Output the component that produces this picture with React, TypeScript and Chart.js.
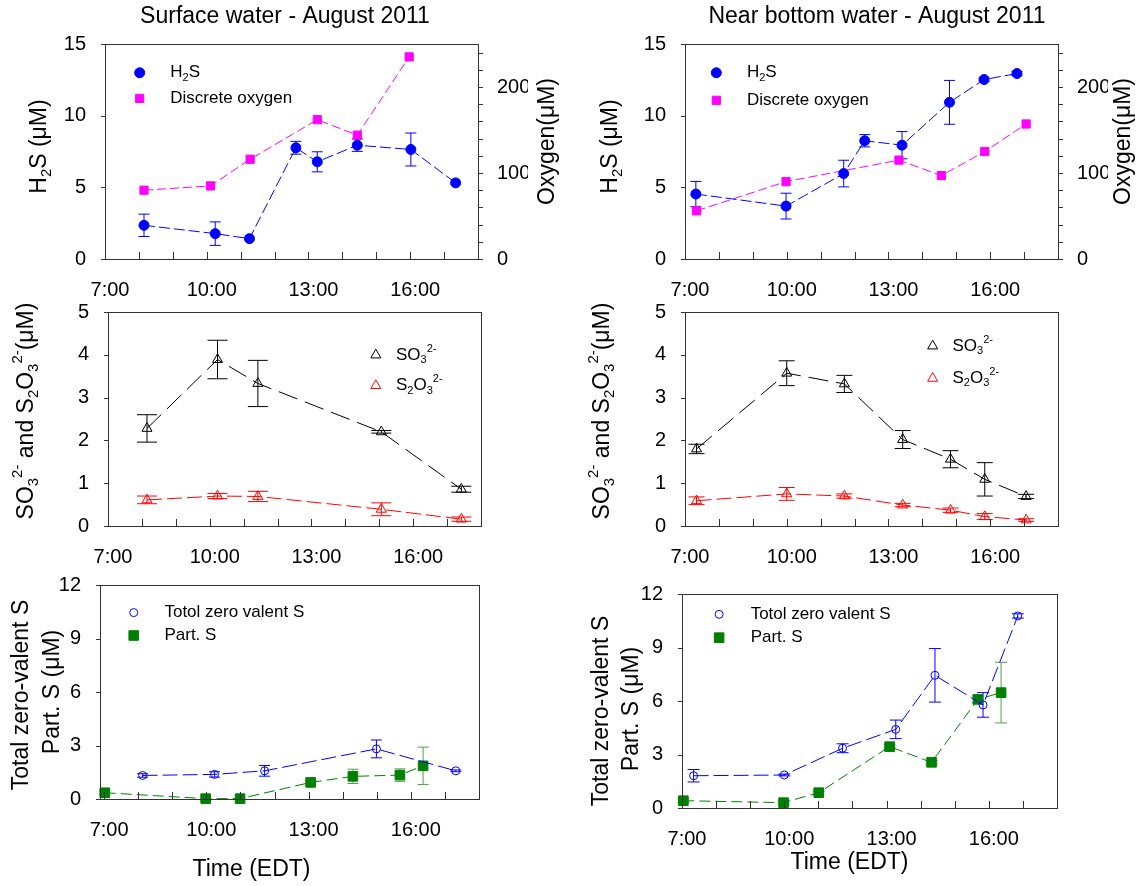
import React, { useEffect, useRef } from 'react';
import { Chart, registerables } from 'chart.js';
Chart.register(...registerables);

const PAGE_W = 1136;
const PAGE_H = 886;
const FONT = "'Liberation Sans', Arial, Helvetica, sans-serif";

// ---------- tick labels ----------
const hourLabels = [7, 10, 13, 16];
const o2Labels = [0, 100, 200];

// ---------- Surface water: H2S and discrete oxygen ----------
const surfH2sTime = [8.15, 10.25, 11.26, 12.63, 13.26, 14.44, 16.02, 17.34];
const surfH2s = [2.35, 1.77, 1.42, 7.76, 6.78, 7.94, 7.64, 5.31];
const surfH2sErr = [0.78, 0.82, 0, 0.45, 0.7, 0.43, 1.15, 0];
const surfO2Time = [8.15, 10.11, 11.28, 13.26, 14.44, 15.97];
const surfO2 = [80, 85, 116, 162, 144, 235];

// ---------- Near bottom water: H2S and discrete oxygen ----------
const botH2sTime = [7.32, 9.98, 11.68, 12.3, 13.4, 14.8, 15.82, 16.79];
const botH2s = [4.53, 3.69, 5.96, 8.25, 7.94, 10.93, 12.52, 12.94];
const botH2sErr = [0.88, 0.9, 0.93, 0.43, 0.95, 1.53, 0.1, 0.15];
const botO2Time = [7.34, 9.98, 13.31, 14.56, 15.84, 17.06];
const botO2 = [56, 90, 115, 97, 125, 157];

// ---------- Surface water: sulfite and thiosulfate ----------
const surfSTime = [8.15, 10.23, 11.42, 15.06, 17.42];
const surfSO3 = [2.28, 3.89, 3.33, 2.2, 0.86];
const surfSO3Err = [0.32, 0.45, 0.54, 0.03, 0.07];
const surfS2O3 = [0.61, 0.7, 0.69, 0.39, 0.16];
const surfS2O3Err = [0.09, 0.06, 0.12, 0.15, 0.05];

// ---------- Near bottom water: sulfite and thiosulfate ----------
const botSTime = [7.34, 10.0, 11.7, 13.42, 14.83, 15.84, 17.06];
const botSO3 = [1.8, 3.57, 3.32, 2.02, 1.56, 1.09, 0.69];
const botSO3Err = [0.11, 0.29, 0.2, 0.21, 0.2, 0.39, 0.05];
const botS2O3 = [0.59, 0.75, 0.7, 0.49, 0.37, 0.22, 0.14];
const botS2O3Err = [0.09, 0.15, 0.05, 0.04, 0.05, 0.07, 0.03];

// ---------- Surface water: zero-valent S and particulate S ----------
const surfZvsTime = [8.13, 10.24, 11.71, 14.99, 17.32];
const surfZvs = [1.32, 1.38, 1.58, 2.81, 1.58];
const surfZvsErr = [0.1, 0.15, 0.3, 0.5, 0.05];
const surfPartTime = [7.02, 9.98, 10.99, 13.06, 14.3, 15.68, 16.36];
const surfPart = [0.35, 0.02, 0.02, 0.93, 1.27, 1.34, 1.86];
const surfPartErr = [0.1, 0, 0, 0.1, 0.4, 0.35, 1.05];

// ---------- Near bottom water: zero-valent S and particulate S ----------
const botZvsTime = [7.34, 10.0, 11.71, 13.27, 14.42, 15.83, 16.85];
const botZvs = [1.81, 1.85, 3.35, 4.41, 7.44, 5.78, 10.77];
const botZvsErr = [0.35, 0.05, 0.25, 0.52, 1.5, 0.69, 0.12];
const botPartTime = [7.04, 9.98, 11.01, 13.09, 14.32, 15.68, 16.36];
const botPart = [0.41, 0.3, 0.86, 3.44, 2.56, 6.09, 6.47];
const botPartErr = [0.1, 0.08, 0.08, 0.1, 0.1, 0.2, 1.7];

// ---------- layout (plot-area boxes, page pixels) ----------
const GEO = {
  tl: { L: 105, R: 478, T: 44, B: 259 },
  tr: { L: 685, R: 1058, T: 44, B: 259 },
  ml: { L: 108, R: 481, T: 312, B: 526 },
  mr: { L: 685, R: 1058, T: 312, B: 526 },
  bl: { L: 100, R: 479, T: 585, B: 799 },
  br: { L: 682, R: 1057, T: 594, B: 808 },
};
const YW = 40;
const Y2W = 50;
const XH = 40;

type Seg = [string, number];
function parseRich(s: string): Seg[] {
  const out: Seg[] = [];
  let buf = '';
  let i = 0;
  while (i < s.length) {
    const c = s[i];
    if ((c === '_' || c === '^') && s[i + 1] === '{') {
      if (buf) { out.push([buf, 0]); buf = ''; }
      const end = s.indexOf('}', i);
      out.push([s.slice(i + 2, end), c === '_' ? 1 : 2]);
      i = end + 1;
    } else { buf += c; i++; }
  }
  if (buf) out.push([buf, 0]);
  return out;
}

function drawRich(ctx: CanvasRenderingContext2D, text: string, x: number, y: number, size: number, align: string, rot: number) {
  const segs = parseRich(text);
  const small = size * 0.65;
  const widths = segs.map(([t, m]) => {
    ctx.font = `${m ? small : size}px ${FONT}`;
    return ctx.measureText(t).width;
  });
  const total = widths.reduce((a, b) => a + b, 0);
  ctx.save();
  ctx.translate(x, y);
  if (rot) ctx.rotate(rot);
  ctx.fillStyle = '#000';
  ctx.textBaseline = 'middle';
  ctx.textAlign = 'left';
  let cx = align === 'center' ? -total / 2 : align === 'right' ? -total : 0;
  segs.forEach(([t, m], i) => {
    ctx.font = `${m ? small : size}px ${FONT}`;
    const dy = m === 1 ? size * 0.3 : m === 2 ? -size * 0.38 : 0;
    ctx.fillText(t, cx, dy);
    cx += widths[i];
  });
  ctx.restore();
}

function drawMarker(ctx: CanvasRenderingContext2D, style: string, x: number, y: number, r: number, fill: string, stroke: string) {
  ctx.beginPath();
  if (style === 'circle') ctx.arc(x, y, r, 0, Math.PI * 2);
  else if (style === 'rect') { const s = r * Math.SQRT1_2; ctx.rect(x - s, y - s, 2 * s, 2 * s); }
  else { ctx.moveTo(x, y - r); ctx.lineTo(x + 0.866 * r, y + r / 2); ctx.lineTo(x - 0.866 * r, y + r / 2); ctx.closePath(); }
  if (fill && fill !== 'transparent') { ctx.fillStyle = fill; ctx.fill(); }
  ctx.strokeStyle = stroke; ctx.lineWidth = 1; ctx.stroke();
}

type Series = {
  label: string; xs: number[]; ys: number[]; err: number[]; color: string; errColor: string;
  style: string; r: number; fill: string; dash: number[]; axis?: string;
};

type PanelCfg = {
  geo: { L: number; R: number; T: number; B: number };
  xMin: number; xMax: number; yMax: number; yStep: number; hasY2: boolean;
  series: Series[]; cap: number;
  legend: { fx: number; tfx: number; fy: number[] };
  texts: { text: string; x: number; y: number; size: number; rot: number }[];
};

function makeDecor(cfg: PanelCfg) {
  return {
    id: 'decor',
    beforeDatasetsDraw(chart: any) {
      const ctx: CanvasRenderingContext2D = chart.ctx;
      chart.data.datasets.forEach((ds: any, i: number) => {
        const meta = chart.getDatasetMeta(i);
        const xs = chart.scales[meta.xAxisID];
        const ys = chart.scales[meta.yAxisID];
        ctx.save();
        ctx.strokeStyle = ds.errColor;
        ctx.lineWidth = 1;
        ds.data.forEach((p: any, j: number) => {
          const e = ds.err[j];
          if (!e) return;
          const px = xs.getPixelForValue(p.x);
          const y1 = ys.getPixelForValue(p.y + e);
          const y2 = ys.getPixelForValue(p.y - e);
          ctx.beginPath();
          ctx.moveTo(px, y1); ctx.lineTo(px, y2);
          ctx.moveTo(px - cfg.cap, y1); ctx.lineTo(px + cfg.cap, y1);
          ctx.moveTo(px - cfg.cap, y2); ctx.lineTo(px + cfg.cap, y2);
          ctx.stroke();
        });
        ctx.restore();
      });
    },
    afterDraw(chart: any) {
      const ctx: CanvasRenderingContext2D = chart.ctx;
      const a = chart.chartArea;
      const xs = chart.scales.x;
      const ys = chart.scales.y;
      ctx.save();
      ctx.strokeStyle = '#333';
      ctx.lineWidth = 1;
      ctx.strokeRect(a.left + 0.5, a.top + 0.5, a.right - a.left, a.bottom - a.top);
      ctx.beginPath();
      for (let h = Math.ceil(cfg.xMin); h <= Math.floor(cfg.xMax); h++) {
        const px = Math.round(xs.getPixelForValue(h)) + 0.5;
        ctx.moveTo(px, a.bottom); ctx.lineTo(px, a.bottom - 7);
      }
      for (let v = 0; v <= cfg.yMax + 1e-9; v += cfg.yStep) {
        const py = Math.round(ys.getPixelForValue(v)) + 0.5;
        ctx.moveTo(a.left, py); ctx.lineTo(a.left - 4, py);
      }
      if (cfg.hasY2) {
        const y2 = chart.scales.y2;
        for (let v = 0; v <= 240; v += 20) {
          const py = Math.round(y2.getPixelForValue(v)) + 0.5;
          ctx.moveTo(a.right, py); ctx.lineTo(a.right + 5, py);
        }
      }
      ctx.stroke();
      ctx.restore();
      // legend
      const w = a.right - a.left;
      const hgt = a.bottom - a.top;
      cfg.series.forEach((s, i) => {
        const mx = a.left + cfg.legend.fx * w;
        const my = a.top + cfg.legend.fy[i] * hgt;
        ctx.save();
        drawMarker(ctx, s.style, mx, my, s.r, s.fill, s.color);
        ctx.restore();
        drawRich(ctx, s.label, a.left + cfg.legend.tfx * w, my, 17, 'left', 0);
      });
      cfg.texts.forEach((t) => drawRich(ctx, t.text, t.x, t.y, t.size, 'center', t.rot));
    },
  };
}

const fixFit = (kind: string, size: number) => (s: any) => {
  if (kind === 'w') s.width = size; else s.height = size;
  s.paddingTop = 0; s.paddingBottom = 0; s.paddingLeft = 0; s.paddingRight = 0;
};

function buildConfig(cfg: PanelCfg): any {
  const g = cfg.geo;
  const tickFont = { family: FONT, size: 20 };
  const scales: any = {
    x: {
      type: 'linear', min: cfg.xMin, max: cfg.xMax,
      grid: { display: false }, border: { display: false },
      afterFit: fixFit('h', XH),
      ticks: {
        stepSize: 1, autoSkip: false, maxRotation: 0, minRotation: 0, includeBounds: false,
        padding: 11, labelOffset: 5, color: '#000', font: tickFont,
        callback: (v: number) => {
          const r = Math.round(v);
          return Math.abs(v - r) < 1e-6 && hourLabels.includes(r) ? `${r}:00` : '';
        },
      },
    },
    y: {
      type: 'linear', position: 'left', min: 0, max: cfg.yMax,
      grid: { display: false }, border: { display: false },
      afterFit: fixFit('w', YW),
      ticks: { stepSize: cfg.yStep, padding: 11, color: '#000', font: tickFont, includeBounds: false },
    },
  };
  if (cfg.hasY2) {
    scales.y2 = {
      type: 'linear', position: 'right', min: 0, max: 250,
      grid: { display: false }, border: { display: false },
      afterFit: fixFit('w', Y2W),
      ticks: {
        stepSize: 100, padding: 11, color: '#000', font: tickFont, includeBounds: false,
        callback: (v: number) => (o2Labels.includes(v) ? String(v) : ''),
      },
    };
  }
  const datasets = cfg.series.map((s) => ({
    label: s.label,
    data: s.xs.map((x, i) => ({ x, y: s.ys[i] })),
    err: s.err,
    errColor: s.errColor,
    yAxisID: s.axis || 'y',
    xAxisID: 'x',
    borderColor: s.color,
    borderWidth: 1,
    borderDash: s.dash,
    pointStyle: s.style,
    pointRadius: s.r,
    pointBackgroundColor: s.fill,
    pointBorderColor: s.color,
    pointBorderWidth: 1,
    fill: false,
    tension: 0,
    clip: false,
  }));
  return {
    type: 'line',
    data: { datasets },
    options: {
      responsive: false,
      animation: false,
      events: [],
      layout: {
        padding: {
          left: g.L - YW,
          top: g.T,
          right: PAGE_W - g.R - (cfg.hasY2 ? Y2W : 0),
          bottom: PAGE_H - g.B - XH,
        },
      },
      plugins: { legend: { display: false }, tooltip: { enabled: false } },
      scales,
    },
    plugins: [makeDecor(cfg)],
  };
}

const BLUE = '#0000ff';
const MAG = '#ff00ff';
const RED = '#ff0000';
const GREEN = '#008000';
const GREEN_ERR = '#4fa04f';
const ROT = -Math.PI / 2;
const mid = (g: { T: number; B: number }) => (g.T + g.B) / 2;
const cen = (g: { L: number; R: number }) => (g.L + g.R) / 2;

function h2sSeries(xs: number[], ys: number[], err: number[], ox: number[], oy: number[]): Series[] {
  return [
    { label: 'H_{2}S', xs, ys, err, color: BLUE, errColor: BLUE, style: 'circle', r: 5, fill: BLUE, dash: [11, 4] },
    { label: 'Discrete oxygen', xs: ox, ys: oy, err: ox.map(() => 0), color: MAG, errColor: MAG, style: 'rect', r: 5.8, fill: MAG, dash: [9, 4], axis: 'y2' },
  ];
}
function sulfSeries(xs: number[], a: number[], ae: number[], b: number[], be: number[]): Series[] {
  return [
    { label: 'SO_{3}^{2-}', xs, ys: a, err: ae, color: '#000', errColor: '#000', style: 'triangle', r: 5.8, fill: 'transparent', dash: [20, 8] },
    { label: 'S_{2}O_{3}^{2-}', xs, ys: b, err: be, color: RED, errColor: RED, style: 'triangle', r: 5.8, fill: 'transparent', dash: [15, 5] },
  ];
}
function zvsSeries(zx: number[], zy: number[], ze: number[], px: number[], py: number[], pe: number[]): Series[] {
  return [
    { label: 'Totol zero valent S', xs: zx, ys: zy, err: ze, color: BLUE, errColor: BLUE, style: 'circle', r: 4, fill: 'transparent', dash: [15, 5] },
    { label: 'Part. S', xs: px, ys: py, err: pe, color: GREEN, errColor: GREEN_ERR, style: 'rect', r: 6.8, fill: GREEN, dash: [11, 5] },
  ];
}

const panels: PanelCfg[] = [
  {
    geo: GEO.tl, xMin: 7, xMax: 18, yMax: 15, yStep: 5, hasY2: true, cap: 5.5,
    series: h2sSeries(surfH2sTime, surfH2s, surfH2sErr, surfO2Time, surfO2),
    legend: { fx: 0.093, tfx: 0.175, fy: [0.134, 0.253] },
    texts: [
      { text: 'Surface water - August 2011', x: 285, y: 17, size: 23, rot: 0 },
      { text: 'H_{2}S (μM)', x: GEO.tl.L - 65, y: mid(GEO.tl) - 5, size: 23, rot: ROT },
      { text: 'Oxygen(μM)', x: GEO.tl.R + 70, y: mid(GEO.tl) - 10, size: 23, rot: ROT },
    ],
  },
  {
    geo: GEO.tr, xMin: 7, xMax: 18, yMax: 15, yStep: 5, hasY2: true, cap: 5.5,
    series: h2sSeries(botH2sTime, botH2s, botH2sErr, botO2Time, botO2),
    legend: { fx: 0.084, tfx: 0.166, fy: [0.134, 0.262] },
    texts: [
      { text: 'Near bottom water - August 2011', x: 877, y: 17, size: 23, rot: 0 },
      { text: 'H_{2}S (μM)', x: GEO.tr.L - 74, y: mid(GEO.tr) - 5, size: 23, rot: ROT },
      { text: 'Oxygen(μM)', x: GEO.tr.R + 66, y: mid(GEO.tr) - 10, size: 23, rot: ROT },
    ],
  },
  {
    geo: GEO.ml, xMin: 7, xMax: 18, yMax: 5, yStep: 1, hasY2: false, cap: 10,
    series: sulfSeries(surfSTime, surfSO3, surfSO3Err, surfS2O3, surfS2O3Err),
    legend: { fx: 0.718, tfx: 0.772, fy: [0.201, 0.344] },
    texts: [
      { text: 'SO_{3}^{2-} and S_{2}O_{3}^{2-}(μM)', x: GEO.ml.L - 81, y: mid(GEO.ml) - 8, size: 23, rot: ROT },
    ],
  },
  {
    geo: GEO.mr, xMin: 7, xMax: 18, yMax: 5, yStep: 1, hasY2: false, cap: 8,
    series: sulfSeries(botSTime, botSO3, botSO3Err, botS2O3, botS2O3Err),
    legend: { fx: 0.664, tfx: 0.717, fy: [0.159, 0.31] },
    texts: [
      { text: 'SO_{3}^{2-} and S_{2}O_{3}^{2-}(μM)', x: GEO.mr.L - 82, y: mid(GEO.mr) - 8, size: 23, rot: ROT },
    ],
  },
  {
    geo: GEO.bl, xMin: 6.88, xMax: 18, yMax: 12, yStep: 3, hasY2: false, cap: 5.5,
    series: zvsSeries(surfZvsTime, surfZvs, surfZvsErr, surfPartTime, surfPart, surfPartErr),
    legend: { fx: 0.089, tfx: 0.17, fy: [0.129, 0.236] },
    texts: [
      { text: 'Total zero-valent S', x: GEO.bl.L - 78, y: mid(GEO.bl) + 3, size: 23, rot: ROT },
      { text: 'Part. S (μM)', x: GEO.bl.L - 47, y: mid(GEO.bl), size: 23, rot: ROT },
      { text: 'Time (EDT)', x: cen(GEO.bl) - 38, y: 870, size: 23, rot: 0 },
    ],
  },
  {
    geo: GEO.br, xMin: 7, xMax: 18, yMax: 12, yStep: 3, hasY2: false, cap: 6,
    series: zvsSeries(botZvsTime, botZvs, botZvsErr, botPartTime, botPart, botPartErr),
    legend: { fx: 0.099, tfx: 0.183, fy: [0.095, 0.204] },
    texts: [
      { text: 'Total zero-valent S', x: GEO.br.L - 80, y: mid(GEO.br) + 10, size: 23, rot: ROT },
      { text: 'Part. S (μM)', x: GEO.br.L - 50, y: mid(GEO.br) + 8, size: 23, rot: ROT },
      { text: 'Time (EDT)', x: cen(GEO.br) - 20, y: 863, size: 23, rot: 0 },
    ],
  },
];

function Panel({ cfg }: { cfg: PanelCfg }) {
  const ref = useRef<HTMLCanvasElement>(null);
  useEffect(() => {
    const chart = new Chart(ref.current as HTMLCanvasElement, buildConfig(cfg));
    return () => chart.destroy();
  }, [cfg]);
  return (
    <canvas
      ref={ref}
      width={PAGE_W}
      height={PAGE_H}
      style={{ position: 'absolute', left: 0, top: 0, width: PAGE_W, height: PAGE_H }}
    />
  );
}

export default function App() {
  return (
    <div style={{ position: 'absolute', left: 0, top: 0, width: PAGE_W, height: PAGE_H, background: '#fff', overflow: 'hidden' }}>
      {panels.map((p, i) => (
        <Panel key={i} cfg={p} />
      ))}
    </div>
  );
}
